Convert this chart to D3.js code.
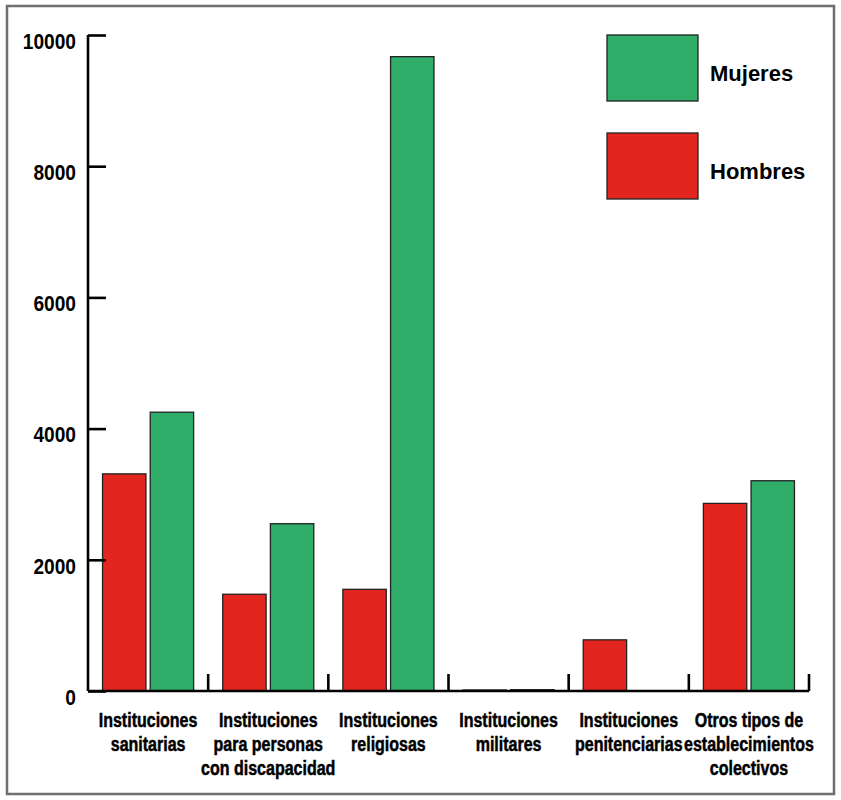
<!DOCTYPE html>
<html>
<head>
<meta charset="utf-8">
<script src="https://cdn.jsdelivr.net/npm/d3@7"></script>
<style>
  body { margin: 0; background: #fff; }
  svg { display: block; }
  .tick text { fill: #000; }
</style>
</head>
<body>
<div class="chartBox"></div>
<script>
// data
const categories = [
    "Instituciones sanitarias",
    "Instituciones para personas con discapacidad",
    "Instituciones religiosas",
    "Instituciones militares",
    "Instituciones penitenciarias",
    "Otros tipos de establecimientos colectivos"
]
const catLines = [
    ["Instituciones", "sanitarias"],
    ["Instituciones", "para personas", "con discapacidad"],
    ["Instituciones", "religiosas"],
    ["Instituciones", "militares"],
    ["Instituciones", "penitenciarias"],
    ["Otros tipos de", "establecimientos", "colectivos"]
]
const series = ["Hombres", "Mujeres"]
const hombres = [3310, 1475, 1550, 15, 780, 2860]
const mujeres = [4250, 2550, 9670, 20, 5, 3205]
const yTicks = [0, 2000, 4000, 6000, 8000, 10000]
const legendOrder = ["Mujeres", "Hombres"]

const colors = { Hombres: "#e2251e", Mujeres: "#2fad69" }

const fullwidth = 841, fullheight = 800
const margin = { top: 35, left: 88 }
const width = 721, height = 656
const font = "'Liberation Sans', Arial, sans-serif"

const svg = d3.select(".chartBox").append("svg")
    .attr("width", fullwidth)
    .attr("height", fullheight)

// grey frame round the picture
svg.append("rect")
    .attr("x", 7).attr("y", 6)
    .attr("width", 827).attr("height", 788)
    .style("fill", "none")
    .style("stroke", "#6f6f6f")
    .style("stroke-width", 2.5)

const g = svg.append("g")
    .attr("transform", "translate(" + margin.left + "," + margin.top + ")")

const x0 = d3.scaleBand().domain(categories).range([0, width])
    .paddingInner(0.242).paddingOuter(0.121)
const x1 = d3.scaleBand().domain(series).range([0, x0.bandwidth()]).paddingInner(0.09)
const yScale = d3.scaleLinear().domain([0, 10000]).range([height, 0])

const rows = categories.map((c, i) => ({ cat: c, Hombres: hombres[i], Mujeres: mujeres[i] }))

// bars
g.append("g")
    .selectAll("g")
    .data(rows)
    .enter()
    .append("g")
    .attr("transform", d => "translate(" + x0(d.cat) + ",0)")
    .selectAll("rect")
    .data(d => series.map(s => ({ key: s, value: d[s] })))
    .enter()
    .append("rect")
    .attr("x", d => x1(d.key))
    .attr("y", d => yScale(d.value))
    .attr("width", x1.bandwidth())
    .attr("height", d => height - yScale(d.value))
    .style("fill", d => colors[d.key])
    .style("stroke", "#222")
    .style("stroke-width", 1.3)

// y axis, ticks pointing inward
const yAxis = g.append("g")
    .call(d3.axisLeft(yScale).tickValues(yTicks).tickSize(-18).tickPadding(12).tickFormat(d3.format("d")))
yAxis.select(".domain").attr("d", "M0," + yScale(10000) + "V" + height)
    .style("stroke", "#000").style("stroke-width", 2.6)
yAxis.selectAll(".tick line").style("stroke", "#000").style("stroke-width", 2.6)
// condensed look: squeeze the glyphs sideways
yAxis.selectAll(".tick text")
    .attr("x", 0)
    .attr("dy", "0.6em")
    .attr("transform", "translate(-12,0) scale(0.87,1)")
    .style("font-family", font)
    .style("font-weight", "bold")
    .style("font-size", "22px")

// x axis: labels under band centres, ticks on band boundaries
const xAxis = g.append("g")
    .attr("transform", "translate(0," + height + ")")
    .call(d3.axisBottom(x0).tickSize(0).tickPadding(0))
xAxis.select(".domain").attr("d", "M0,0H" + width)
    .style("stroke", "#000").style("stroke-width", 2.6)
xAxis.selectAll(".tick text").each(function (d, i) {
    const t = d3.select(this).text(null)
        .attr("y", 0).attr("dy", null)
        .attr("transform", "scale(0.8,1)")
        .style("font-family", font)
        .style("font-weight", "bold")
        .style("font-size", "20px")
        .style("stroke", "#000")
        .style("stroke-width", 0.5)
    catLines[i].forEach((line, j) => {
        t.append("tspan").attr("x", 0).attr("y", 36 + j * 24).text(line)
    })
})
const half = x0.step() * x0.paddingInner() / 2
const bounds = categories.map(c => x0(c) + x0.bandwidth() + half)
xAxis.selectAll(".bound")
    .data(bounds)
    .enter()
    .append("line")
    .attr("class", "bound")
    .attr("x1", d => d).attr("x2", d => d)
    .attr("y1", 0).attr("y2", -17)
    .style("stroke", "#000").style("stroke-width", 2.6)

// legend
const legend = svg.append("g")
    .selectAll("g")
    .data(legendOrder)
    .enter()
    .append("g")
    .attr("transform", (d, i) => "translate(607," + (35 + i * 98) + ")")
legend.append("rect")
    .attr("width", 91).attr("height", 66)
    .style("fill", d => colors[d])
    .style("stroke", "#222")
    .style("stroke-width", 1.3)
legend.append("text")
    .attr("x", 103).attr("y", 46)
    .text(d => d)
    .style("font-family", font)
    .style("font-weight", "bold")
    .style("font-size", "22px")
</script>
</body>
</html>
